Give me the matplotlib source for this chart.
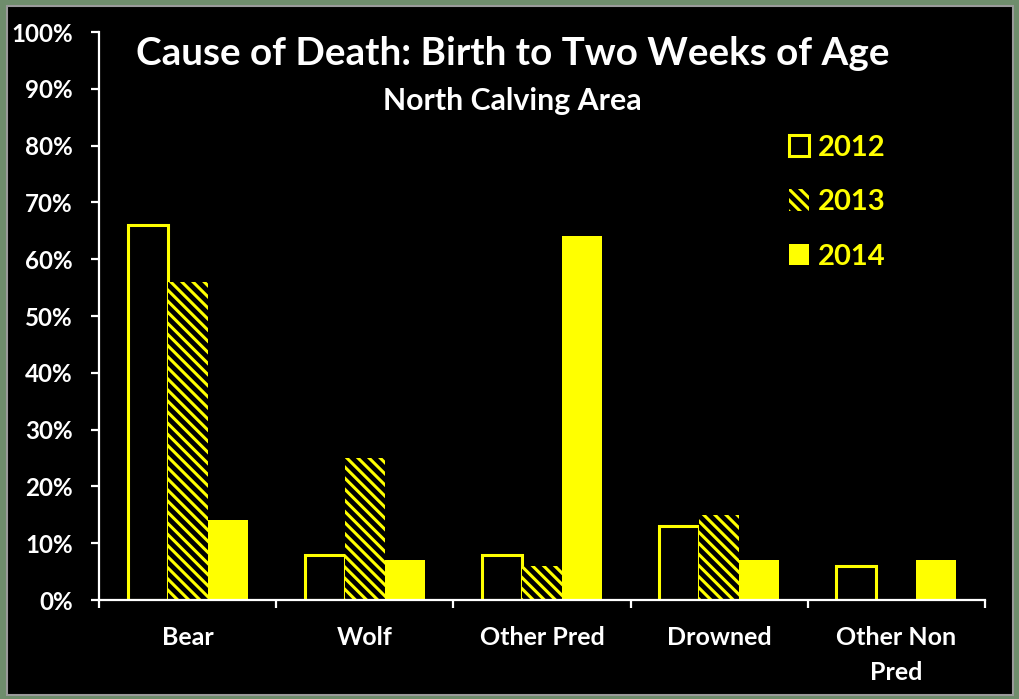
import matplotlib
matplotlib.use("Agg")
import matplotlib.pyplot as plt
from matplotlib.patches import Patch, Rectangle
from matplotlib.ticker import FixedLocator, PercentFormatter
import numpy as np

categories = ["Bear", "Wolf", "Other Pred", "Drowned", "Other Non\nPred"]
years = ["2012", "2013", "2014"]
v2012 = [66, 8, 8, 13, 6]
v2013 = [56, 25, 6, 15, 0]
v2014 = [14, 7, 64, 7, 7]

YEL = "#FFFF00"
plt.rcParams["font.family"] = ["Lato", "DejaVu Sans"]
plt.rcParams["font.weight"] = "bold"
plt.rcParams["hatch.linewidth"] = 2.2

fig = plt.figure(figsize=(10.19, 6.99), dpi=100, facecolor="#6f8d6c")
fig.patches.append(Rectangle((7/1019, 4/699), 1006/1019, 689/699, transform=fig.transFigure,
                             facecolor="black", edgecolor="#9a9a9a", linewidth=1.5, zorder=-5))

ax = fig.add_axes([99/1019, 99/699, 886/1019, 568/699])
ax.set_facecolor("none")
ax.set_zorder(2)

x = np.arange(len(categories)) + 0.5
w = 0.226
ax.bar(x - w, np.array(v2012)/100, w, facecolor="black", edgecolor=YEL, linewidth=2.2, label="2012")
ax.bar(x, np.array(v2013)/100, w, facecolor="black", edgecolor=YEL, linewidth=0, hatch="\\" * 3, label="2013")
ax.bar(x + w, np.array(v2014)/100, w, facecolor=YEL, edgecolor=YEL, linewidth=0, label="2014")

ax.set_xlim(0, len(categories))
ax.set_ylim(0, 1.0)
ax.yaxis.set_major_locator(FixedLocator(np.arange(0, 1.01, 0.1)))
ax.yaxis.set_major_formatter(PercentFormatter(1.0, decimals=0))
ax.xaxis.set_major_locator(FixedLocator(np.arange(0, len(categories) + 1)))
ax.xaxis.set_major_formatter(plt.NullFormatter())
ax.xaxis.set_minor_locator(FixedLocator(x))
ax.set_xticklabels(categories, minor=True)

for s in ["top", "right"]:
    ax.spines[s].set_visible(False)
for s in ["left", "bottom"]:
    ax.spines[s].set_color("white")
    ax.spines[s].set_linewidth(1.6)

ax.tick_params(axis="y", which="major", direction="out", length=6, width=1.6, color="white",
               labelcolor="white", labelsize=17.4, pad=13)
ax.tick_params(axis="x", which="major", direction="out", length=6, width=1.6, color="white")
ax.tick_params(axis="x", which="minor", length=0, labelcolor="white", labelsize=18, pad=19)
for lab in ax.get_xticklabels(minor=True):
    lab.set_linespacing(1.63)
    lab.set_verticalalignment("top")

fig.text(0.503, 0.924, "Cause of Death: Birth to Two Weeks of Age", color="white",
         fontsize=27.8, fontweight="bold", ha="center", va="center")
fig.text(0.503, 0.855, "North Calving Area", color="white",
         fontsize=21.8, fontweight="bold", ha="center", va="center")

handles = [Patch(facecolor="black", edgecolor=YEL, linewidth=2.2),
           Patch(facecolor="black", edgecolor=YEL, linewidth=0, hatch="\\" * 3),
           Patch(facecolor=YEL, edgecolor=YEL, linewidth=0)]
leg = ax.legend(handles, years, loc="upper left", bbox_to_anchor=(774/1019, 1 - 120/699),
                bbox_transform=fig.transFigure, frameon=False, fontsize=21,
                handlelength=0.7, handleheight=0.75, handletextpad=0.3, labelspacing=0.98,
                borderpad=0)
for t in leg.get_texts():
    t.set_color(YEL)
    t.set_fontweight("bold")

fig.savefig("out.png", dpi=100, facecolor=fig.get_facecolor())
